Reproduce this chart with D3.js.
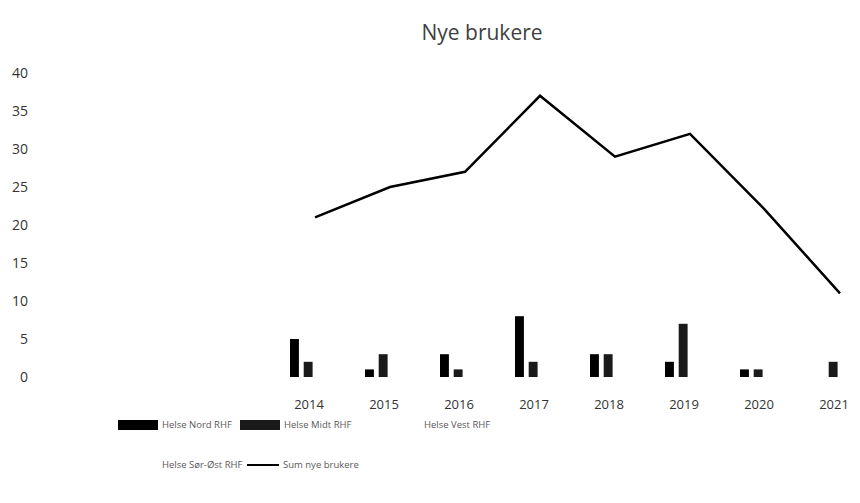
<!DOCTYPE html>
<html>
<head>
<meta charset="utf-8">
<script src="https://cdn.jsdelivr.net/npm/d3@7"></script>
<style>
    body { margin: 0; background: #fff; }
    text { font-family: "Open Sans", "Liberation Sans", sans-serif; }
</style>
</head>
<body>
<div id="chart"></div>
<script>
// Data
const years = ["2014", "2015", "2016", "2017", "2018", "2019", "2020", "2021"];
const helseNord = [5, 1, 3, 8, 3, 2, 1, 0];
const helseMidt = [2, 3, 1, 2, 3, 7, 1, 2];
const sumNyeBrukere = [21, 25, 27, 37, 29, 32, 22, 11];
const yTicks = [0, 5, 10, 15, 20, 25, 30, 35, 40];
const seriesNames = ["Helse Nord RHF", "Helse Midt RHF", "Helse Vest RHF", "Helse Sør-Øst RHF"];
const lineName = "Sum nye brukere";

const width = 860, height = 503;

const svg = d3.select("#chart")
    .append("svg")
    .attr("width", width)
    .attr("height", height);

// Title
svg.append("text")
    .attr("x", 482)
    .attr("y", 40)
    .attr("text-anchor", "middle")
    .attr("font-size", "21px")
    .attr("fill", "#404040")
    .text("Nye brukere");

// Scales
const x = d3.scaleBand()
    .domain(years)
    .range([277.5, 877.5]);

const x1 = d3.scaleBand()
    .domain(seriesNames)
    .range([-25, 25])
    .paddingInner(0.35);

const y = d3.scaleLinear()
    .domain([0, 40])
    .range([377, 73]);

const center = d => x(d) + x.bandwidth() / 2;

// Y axis labels (no axis line, no gridlines visible)
const yAxis = svg.append("g")
    .attr("transform", "translate(28,0)")
    .call(d3.axisLeft(y).tickValues(yTicks).tickSize(0).tickPadding(0));
yAxis.select(".domain").remove();
yAxis.selectAll("text")
    .attr("font-size", "14px")
    .attr("fill", "#333");

// X axis labels
const xAxis = svg.append("g")
    .attr("transform", "translate(0,400)")
    .call(d3.axisBottom(x).tickSize(0).tickPadding(0));
xAxis.select(".domain").remove();
xAxis.selectAll("text")
    .attr("dx", "-6")
    .attr("font-size", "13px")
    .attr("fill", "#333");

// Bars for the two visible series
const barSeries = [
    { name: seriesNames[0], values: helseNord, fill: "#000" },
    { name: seriesNames[1], values: helseMidt, fill: "#1a1a1a" }
];

barSeries.forEach(s => {
    svg.append("g")
        .selectAll("rect")
        .data(years)
        .enter().append("rect")
        .attr("x", d => center(d) + x1(s.name))
        .attr("width", x1.bandwidth())
        .attr("y", (d, i) => y(s.values[i]))
        .attr("height", (d, i) => y(0) - y(s.values[i]))
        .attr("fill", s.fill);
});

// Sum line
const line = d3.line()
    .x((d, i) => center(years[i]))
    .y(d => y(d));

svg.append("path")
    .datum(sumNyeBrukere)
    .attr("d", line)
    .attr("fill", "none")
    .attr("stroke", "#000")
    .attr("stroke-width", 2.5)
    .attr("stroke-linejoin", "miter");

// Legend
const legendItems = [
    { name: seriesNames[0], type: "rect", fill: "#000", x: 118, y: 425 },
    { name: seriesNames[1], type: "rect", fill: "#1a1a1a", x: 240, y: 425 },
    { name: seriesNames[2], type: "rect", fill: "#fff", x: 380, y: 425 },
    { name: seriesNames[3], type: "rect", fill: "#fff", x: 118, y: 465 },
    { name: lineName, type: "line", fill: "#000", x: 247, y: 465 }
];

const legend = svg.append("g")
    .selectAll("g")
    .data(legendItems)
    .enter().append("g")
    .attr("transform", d => `translate(${d.x},${d.y})`);

legend.filter(d => d.type === "rect").append("rect")
    .attr("x", 0)
    .attr("y", -5)
    .attr("width", 40)
    .attr("height", 10)
    .attr("fill", d => d.fill);

legend.filter(d => d.type === "line").append("line")
    .attr("x1", 0)
    .attr("x2", 32)
    .attr("y1", 0)
    .attr("y2", 0)
    .attr("stroke", "#000")
    .attr("stroke-width", 2);

legend.append("text")
    .attr("x", d => d.type === "line" ? 36 : 44)
    .attr("y", 0)
    .attr("dy", "0.35em")
    .attr("font-size", "9.5px")
    .attr("fill", "#595959")
    .text(d => d.name);
</script>
</body>
</html>
